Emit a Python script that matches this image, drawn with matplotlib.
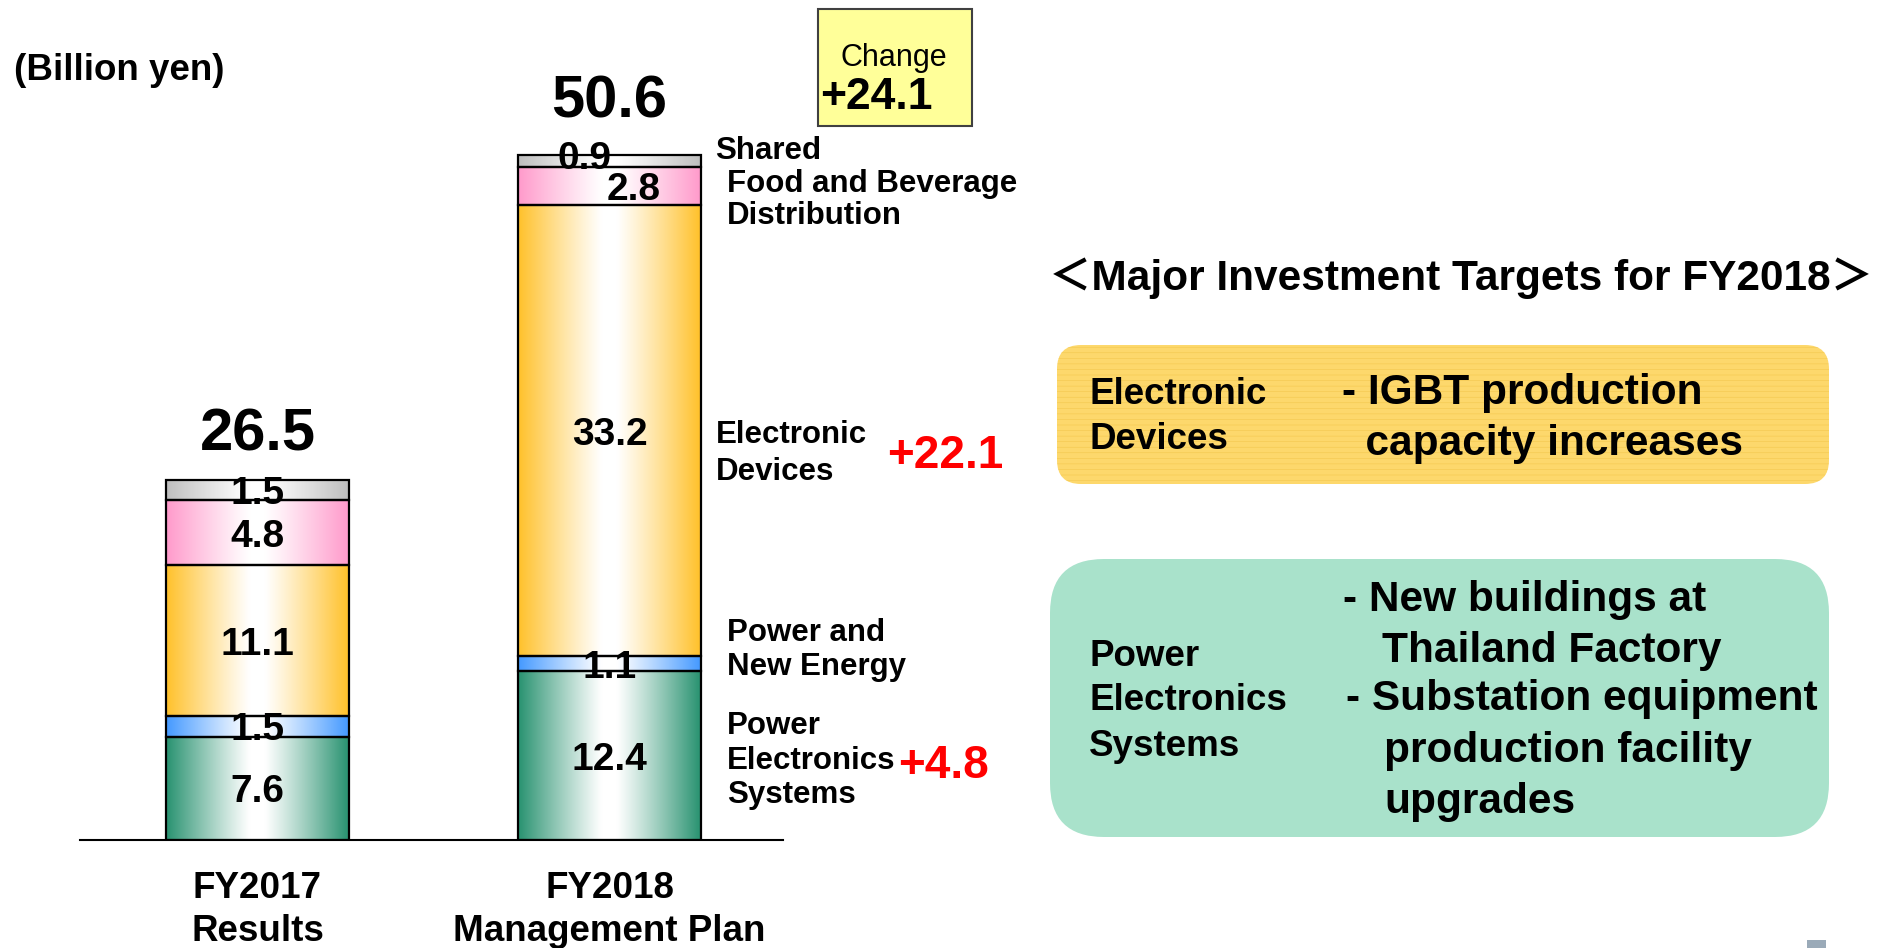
import numpy as np
import matplotlib
matplotlib.use("Agg")
import matplotlib.pyplot as plt
from matplotlib.patches import FancyBboxPatch, Rectangle
from matplotlib.colors import to_rgb

# ---------------- data ----------------
categories = ["FY2017\nResults", "FY2018\nManagement Plan"]
segments = ["Power Electronics Systems", "Power and New Energy",
            "Electronic Devices", "Food and Beverage Distribution", "Shared"]
fy2017 = [7.6, 1.5, 11.1, 4.8, 1.5]
fy2018 = [12.4, 1.1, 33.2, 2.8, 0.9]
totals = [26.5, 50.6]
change_total = "+24.1"
change_electronic = "+22.1"
change_power_elec = "+4.8"
unit_label = "(Billion yen)"
title_right = "＜Major Investment Targets for FY2018＞"
box1_left = ["Electronic", "Devices"]
box1_right = ["- IGBT production", "  capacity increases"]
box2_left = ["Power", "Electronics", "Systems"]
box2_right = ["- New buildings at", "Thailand Factory", "- Substation equipment",
              "production facility", "upgrades"]

seg_colors = ["#289270", "#4499FF", "#FFC12A", "#FF9ACB", "#BEBEBE"]

W, H = 1884, 948
plt.rcParams['font.family'] = ['Liberation Sans', 'Noto Sans CJK JP', 'DejaVu Sans']
plt.rcParams['hatch.linewidth'] = 0.4
fig = plt.figure(figsize=(W / 100, H / 100), dpi=100)

# ---------------- bar axes ----------------
px_per_unit = 13.6
base_px = 840
ax = fig.add_axes([80 / W, (H - base_px) / H, (783 - 80) / W, base_px / H])
x = np.array([0, 1])
sep = 352
c0 = 257.5
xlim = (-(c0 - 80) / sep, (783 - c0) / sep)
bar_w = 183 / sep

data = np.array([fy2017, fy2018])
bottoms = np.zeros(2)
label_off = {(1, 4): (-25, 2), (1, 3): (24, -4)}
for j, seg in enumerate(segments):
    vals = data[:, j]
    bars = ax.bar(x, vals, bottom=bottoms, width=bar_w, facecolor="none",
                  edgecolor="black", linewidth=1.6, zorder=3)
    c = np.array(to_rgb(seg_colors[j]))
    t = np.linspace(-1, 1, 256)
    f = np.clip((np.abs(t) - 0.08) / 0.92, 0, 1) ** 1.1
    grad = (1 - f)[:, None] * np.ones(3)[None, :] + f[:, None] * c[None, :]
    grad = grad[None, :, :]
    for i, b in enumerate(bars):
        ax.imshow(grad, extent=(b.get_x(), b.get_x() + b.get_width(),
                                b.get_y(), b.get_y() + b.get_height()),
                  aspect="auto", interpolation="bilinear", zorder=1)
        dx, dy = label_off.get((i, j), (0, -4))
        ax.annotate(f"{vals[i]:.1f}", (x[i], bottoms[i] + vals[i] / 2),
                    xytext=(dx, dy), textcoords="offset pixels",
                    ha="center", va="center", fontsize=28, fontweight="bold",
                    zorder=5)
    bottoms = bottoms + vals

for i, tot in enumerate(totals):
    ax.annotate(f"{tot:.1f}", (x[i], tot), xytext=(0, 45 if i == 0 else 50),
                textcoords="offset pixels", ha="center", va="center",
                fontsize=43, fontweight="bold")

ax.set_xlim(*xlim)
ax.set_ylim(0, base_px / px_per_unit)
ax.set_xticks(x)
ax.set_xticklabels(categories, fontsize=26.5, fontweight="bold", linespacing=1.3)
ax.tick_params(axis="x", length=0, pad=22)
ax.set_yticks([])
for s in ["top", "right", "left"]:
    ax.spines[s].set_visible(False)
ax.spines["bottom"].set_linewidth(1.5)
ax.patch.set_visible(False)

# ---------------- overlay in pixel coordinates ----------------
ov = fig.add_axes([0, 0, 1, 1])
ov.set_xlim(0, W)
ov.set_ylim(H, 0)
ov.axis("off")
ov.patch.set_visible(False)

def txt(x0, y0, s, size, bold=True, ha="left", color="black"):
    ov.text(x0, y0 + 4, s, fontsize=size, fontweight="bold" if bold else "normal",
            ha=ha, va="center", color=color)

txt(14, 66, unit_label, 26.5)

# change box
ov.add_patch(Rectangle((818, 9), 154, 117, facecolor="#FFFF99",
                       edgecolor="#404040", linewidth=1.5))
txt(894, 54, "Change", 22, bold=False, ha="center")
txt(820, 93, change_total, 32)

# segment labels right of FY2018 bar
right_labels = [(715, 147, "Shared"), (727, 180, "Food and Beverage"),
                (727, 212, "Distribution"), (716, 431, "Electronic"),
                (716, 468, "Devices"), (727, 629, "Power and"),
                (727, 663, "New Energy"), (727, 722, "Power"),
                (727, 757, "Electronics"), (727, 791, "Systems")]
for xx, yy, s in right_labels:
    txt(xx, yy, s, 22.5)
txt(887, 452, change_electronic, 33, color="#FF0000")
txt(898, 762, change_power_elec, 33, color="#FF0000")

# right side
txt(1461, 274, title_right, 30.5, ha="center")

ov.add_patch(FancyBboxPatch((1057, 345), 772, 139,
                            boxstyle="round,pad=0,rounding_size=24",
                            facecolor="#FDD86C", edgecolor="#F3C74E",
                            linewidth=0, hatch="---"))
ov.add_patch(FancyBboxPatch((1050, 559), 779, 278,
                            boxstyle="round,pad=0,rounding_size=54",
                            facecolor="#A9E2CB", edgecolor="none"))

for k, s in enumerate(box1_left):
    txt(1089, 390 + 45 * k, s, 26.5)
txt(1342, 389, box1_right[0], 30.5)
txt(1342, 440, box1_right[1], 30.5)

for k, s in enumerate(box2_left):
    txt(1089, 652 + 45 * k, s, 26.5)
r_pos = [(1343, 596), (1382, 647), (1346, 695), (1384, 747), (1384, 798)]
for (xx, yy), s in zip(r_pos, box2_right):
    txt(xx, yy, s, 30.5)

ov.add_patch(Rectangle((1807, 940), 19, 8, facecolor="#9AAAB8", edgecolor="none"))

fig.savefig("out.png", dpi=100)
